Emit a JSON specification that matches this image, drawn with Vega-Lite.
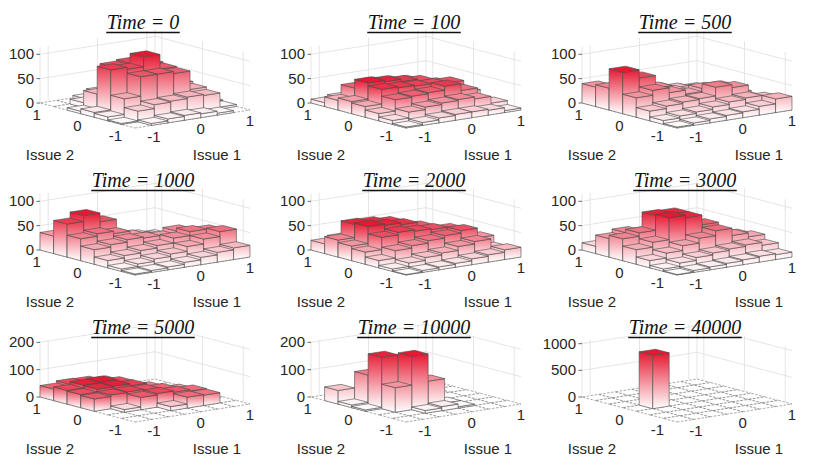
{
  "$schema": "https://vega.github.io/schema/vega-lite/v6.json",
  "padding": {"left": 0, "top": 13, "right": 0, "bottom": 0},
  "config": {
    "view": {"stroke": null},
    "header": {"labels": false, "title": null, "labelExpr": "''", "labelFontSize": 0, "labelPadding": 0, "labelColor": "transparent"},
    "headerFacet": {"labels": false, "title": null, "labelExpr": "''", "labelFontSize": 0, "labelPadding": 0, "labelColor": "transparent"}
  },
  "datasets": {
    "panels": [
      {"t": 0, "zmax": 115, "step": 50},
      {"t": 100, "zmax": 115, "step": 50},
      {"t": 500, "zmax": 115, "step": 50},
      {"t": 1000, "zmax": 115, "step": 50},
      {"t": 2000, "zmax": 115, "step": 50},
      {"t": 3000, "zmax": 115, "step": 50},
      {"t": 5000, "zmax": 205, "step": 100},
      {"t": 10000, "zmax": 205, "step": 100},
      {"t": 40000, "zmax": 1050, "step": 500}
    ],
    "bins": [
      {"t":0,"issue1":0.857,"issue2":0.857,"n":0},{"t":0,"issue1":0.571,"issue2":0.857,"n":0},{"t":0,"issue1":0.286,"issue2":0.857,"n":5},{"t":0,"issue1":0,"issue2":0.857,"n":8},{"t":0,"issue1":-0.286,"issue2":0.857,"n":5},{"t":0,"issue1":-0.571,"issue2":0.857,"n":0},{"t":0,"issue1":-0.857,"issue2":0.857,"n":0},
      {"t":0,"issue1":0.857,"issue2":0.571,"n":0},{"t":0,"issue1":0.571,"issue2":0.571,"n":10},{"t":0,"issue1":0.286,"issue2":0.571,"n":25},{"t":0,"issue1":0,"issue2":0.571,"n":30},{"t":0,"issue1":-0.286,"issue2":0.571,"n":26},{"t":0,"issue1":-0.571,"issue2":0.571,"n":10},{"t":0,"issue1":-0.857,"issue2":0.571,"n":0},
      {"t":0,"issue1":0.857,"issue2":0.286,"n":5},{"t":0,"issue1":0.571,"issue2":0.286,"n":35},{"t":0,"issue1":0.286,"issue2":0.286,"n":80},{"t":0,"issue1":0,"issue2":0.286,"n":88},{"t":0,"issue1":-0.286,"issue2":0.286,"n":85},{"t":0,"issue1":-0.571,"issue2":0.286,"n":35},{"t":0,"issue1":-0.857,"issue2":0.286,"n":5},
      {"t":0,"issue1":0.857,"issue2":0,"n":8},{"t":0,"issue1":0.571,"issue2":0,"n":42},{"t":0,"issue1":0.286,"issue2":0,"n":78},{"t":0,"issue1":0,"issue2":0,"n":108},{"t":0,"issue1":-0.286,"issue2":0,"n":88},{"t":0,"issue1":-0.571,"issue2":0,"n":92},{"t":0,"issue1":-0.857,"issue2":0,"n":10},
      {"t":0,"issue1":0.857,"issue2":-0.286,"n":6},{"t":0,"issue1":0.571,"issue2":-0.286,"n":38},{"t":0,"issue1":0.286,"issue2":-0.286,"n":76},{"t":0,"issue1":0,"issue2":-0.286,"n":80},{"t":0,"issue1":-0.286,"issue2":-0.286,"n":80},{"t":0,"issue1":-0.571,"issue2":-0.286,"n":40},{"t":0,"issue1":-0.857,"issue2":-0.286,"n":8},
      {"t":0,"issue1":0.857,"issue2":-0.571,"n":4},{"t":0,"issue1":0.571,"issue2":-0.571,"n":33},{"t":0,"issue1":0.286,"issue2":-0.571,"n":35},{"t":0,"issue1":0,"issue2":-0.571,"n":32},{"t":0,"issue1":-0.286,"issue2":-0.571,"n":30},{"t":0,"issue1":-0.571,"issue2":-0.571,"n":22},{"t":0,"issue1":-0.857,"issue2":-0.571,"n":2},
      {"t":0,"issue1":0.857,"issue2":-0.857,"n":0},{"t":0,"issue1":0.571,"issue2":-0.857,"n":4},{"t":0,"issue1":0.286,"issue2":-0.857,"n":8},{"t":0,"issue1":0,"issue2":-0.857,"n":10},{"t":0,"issue1":-0.286,"issue2":-0.857,"n":8},{"t":0,"issue1":-0.571,"issue2":-0.857,"n":4},{"t":0,"issue1":-0.857,"issue2":-0.857,"n":0},

      {"t":100,"issue1":0.857,"issue2":0.857,"n":5},{"t":100,"issue1":0.571,"issue2":0.857,"n":10},{"t":100,"issue1":0.286,"issue2":0.857,"n":12},{"t":100,"issue1":0,"issue2":0.857,"n":15},{"t":100,"issue1":-0.286,"issue2":0.857,"n":15},{"t":100,"issue1":-0.571,"issue2":0.857,"n":12},{"t":100,"issue1":-0.857,"issue2":0.857,"n":8},
      {"t":100,"issue1":0.857,"issue2":0.571,"n":10},{"t":100,"issue1":0.571,"issue2":0.571,"n":28},{"t":100,"issue1":0.286,"issue2":0.571,"n":38},{"t":100,"issue1":0,"issue2":0.571,"n":42},{"t":100,"issue1":-0.286,"issue2":0.571,"n":45},{"t":100,"issue1":-0.571,"issue2":0.571,"n":40},{"t":100,"issue1":-0.857,"issue2":0.571,"n":20},
      {"t":100,"issue1":0.857,"issue2":0.286,"n":12},{"t":100,"issue1":0.571,"issue2":0.286,"n":35},{"t":100,"issue1":0.286,"issue2":0.286,"n":45},{"t":100,"issue1":0,"issue2":0.286,"n":50},{"t":100,"issue1":-0.286,"issue2":0.286,"n":55},{"t":100,"issue1":-0.571,"issue2":0.286,"n":58},{"t":100,"issue1":-0.857,"issue2":0.286,"n":25},
      {"t":100,"issue1":0.857,"issue2":0,"n":20},{"t":100,"issue1":0.571,"issue2":0,"n":44},{"t":100,"issue1":0.286,"issue2":0,"n":46},{"t":100,"issue1":0,"issue2":0,"n":48},{"t":100,"issue1":-0.286,"issue2":0,"n":50},{"t":100,"issue1":-0.571,"issue2":0,"n":52},{"t":100,"issue1":-0.857,"issue2":0,"n":22},
      {"t":100,"issue1":0.857,"issue2":-0.286,"n":10},{"t":100,"issue1":0.571,"issue2":-0.286,"n":36},{"t":100,"issue1":0.286,"issue2":-0.286,"n":50},{"t":100,"issue1":0,"issue2":-0.286,"n":42},{"t":100,"issue1":-0.286,"issue2":-0.286,"n":40},{"t":100,"issue1":-0.571,"issue2":-0.286,"n":38},{"t":100,"issue1":-0.857,"issue2":-0.286,"n":15},
      {"t":100,"issue1":0.857,"issue2":-0.571,"n":12},{"t":100,"issue1":0.571,"issue2":-0.571,"n":26},{"t":100,"issue1":0.286,"issue2":-0.571,"n":30},{"t":100,"issue1":0,"issue2":-0.571,"n":28},{"t":100,"issue1":-0.286,"issue2":-0.571,"n":25},{"t":100,"issue1":-0.571,"issue2":-0.571,"n":20},{"t":100,"issue1":-0.857,"issue2":-0.571,"n":8},
      {"t":100,"issue1":0.857,"issue2":-0.857,"n":4},{"t":100,"issue1":0.571,"issue2":-0.857,"n":10},{"t":100,"issue1":0.286,"issue2":-0.857,"n":12},{"t":100,"issue1":0,"issue2":-0.857,"n":12},{"t":100,"issue1":-0.286,"issue2":-0.857,"n":10},{"t":100,"issue1":-0.571,"issue2":-0.857,"n":6},{"t":100,"issue1":-0.857,"issue2":-0.857,"n":2},

      {"t":500,"issue1":0.857,"issue2":0.857,"n":5},{"t":500,"issue1":0.571,"issue2":0.857,"n":8},{"t":500,"issue1":0.286,"issue2":0.857,"n":12},{"t":500,"issue1":0,"issue2":0.857,"n":15},{"t":500,"issue1":-0.286,"issue2":0.857,"n":20},{"t":500,"issue1":-0.571,"issue2":0.857,"n":30},{"t":500,"issue1":-0.857,"issue2":0.857,"n":40},
      {"t":500,"issue1":0.857,"issue2":0.571,"n":8},{"t":500,"issue1":0.571,"issue2":0.571,"n":15},{"t":500,"issue1":0.286,"issue2":0.571,"n":22},{"t":500,"issue1":0,"issue2":0.571,"n":28},{"t":500,"issue1":-0.286,"issue2":0.571,"n":35},{"t":500,"issue1":-0.571,"issue2":0.571,"n":55},{"t":500,"issue1":-0.857,"issue2":0.571,"n":45},
      {"t":500,"issue1":0.857,"issue2":0.286,"n":10},{"t":500,"issue1":0.571,"issue2":0.286,"n":20},{"t":500,"issue1":0.286,"issue2":0.286,"n":25},{"t":500,"issue1":0,"issue2":0.286,"n":30},{"t":500,"issue1":-0.286,"issue2":0.286,"n":42},{"t":500,"issue1":-0.571,"issue2":0.286,"n":68},{"t":500,"issue1":-0.857,"issue2":0.286,"n":85},
      {"t":500,"issue1":0.857,"issue2":0,"n":18},{"t":500,"issue1":0.571,"issue2":0,"n":36},{"t":500,"issue1":0.286,"issue2":0,"n":38},{"t":500,"issue1":0,"issue2":0,"n":32},{"t":500,"issue1":-0.286,"issue2":0,"n":40},{"t":500,"issue1":-0.571,"issue2":0,"n":50},{"t":500,"issue1":-0.857,"issue2":0,"n":40},
      {"t":500,"issue1":0.857,"issue2":-0.286,"n":15},{"t":500,"issue1":0.571,"issue2":-0.286,"n":42},{"t":500,"issue1":0.286,"issue2":-0.286,"n":48},{"t":500,"issue1":0,"issue2":-0.286,"n":30},{"t":500,"issue1":-0.286,"issue2":-0.286,"n":28},{"t":500,"issue1":-0.571,"issue2":-0.286,"n":25},{"t":500,"issue1":-0.857,"issue2":-0.286,"n":20},
      {"t":500,"issue1":0.857,"issue2":-0.571,"n":22},{"t":500,"issue1":0.571,"issue2":-0.571,"n":28},{"t":500,"issue1":0.286,"issue2":-0.571,"n":25},{"t":500,"issue1":0,"issue2":-0.571,"n":20},{"t":500,"issue1":-0.286,"issue2":-0.571,"n":15},{"t":500,"issue1":-0.571,"issue2":-0.571,"n":12},{"t":500,"issue1":-0.857,"issue2":-0.571,"n":8},
      {"t":500,"issue1":0.857,"issue2":-0.857,"n":28},{"t":500,"issue1":0.571,"issue2":-0.857,"n":18},{"t":500,"issue1":0.286,"issue2":-0.857,"n":12},{"t":500,"issue1":0,"issue2":-0.857,"n":10},{"t":500,"issue1":-0.286,"issue2":-0.857,"n":8},{"t":500,"issue1":-0.571,"issue2":-0.857,"n":5},{"t":500,"issue1":-0.857,"issue2":-0.857,"n":2},

      {"t":1000,"issue1":0.857,"issue2":0.857,"n":5},{"t":1000,"issue1":0.571,"issue2":0.857,"n":10},{"t":1000,"issue1":0.286,"issue2":0.857,"n":12},{"t":1000,"issue1":0,"issue2":0.857,"n":15},{"t":1000,"issue1":-0.286,"issue2":0.857,"n":20},{"t":1000,"issue1":-0.571,"issue2":0.857,"n":30},{"t":1000,"issue1":-0.857,"issue2":0.857,"n":36},
      {"t":1000,"issue1":0.857,"issue2":0.571,"n":10},{"t":1000,"issue1":0.571,"issue2":0.571,"n":15},{"t":1000,"issue1":0.286,"issue2":0.571,"n":20},{"t":1000,"issue1":0,"issue2":0.571,"n":30},{"t":1000,"issue1":-0.286,"issue2":0.571,"n":62},{"t":1000,"issue1":-0.571,"issue2":0.571,"n":80},{"t":1000,"issue1":-0.857,"issue2":0.571,"n":68},
      {"t":1000,"issue1":0.857,"issue2":0.286,"n":15},{"t":1000,"issue1":0.571,"issue2":0.286,"n":20},{"t":1000,"issue1":0.286,"issue2":0.286,"n":25},{"t":1000,"issue1":0,"issue2":0.286,"n":35},{"t":1000,"issue1":-0.286,"issue2":0.286,"n":45},{"t":1000,"issue1":-0.571,"issue2":0.286,"n":50},{"t":1000,"issue1":-0.857,"issue2":0.286,"n":45},
      {"t":1000,"issue1":0.857,"issue2":0,"n":30},{"t":1000,"issue1":0.571,"issue2":0,"n":42},{"t":1000,"issue1":0.286,"issue2":0,"n":35},{"t":1000,"issue1":0,"issue2":0,"n":38},{"t":1000,"issue1":-0.286,"issue2":0,"n":40},{"t":1000,"issue1":-0.571,"issue2":0,"n":35},{"t":1000,"issue1":-0.857,"issue2":0,"n":30},
      {"t":1000,"issue1":0.857,"issue2":-0.286,"n":44},{"t":1000,"issue1":0.571,"issue2":-0.286,"n":48},{"t":1000,"issue1":0.286,"issue2":-0.286,"n":40},{"t":1000,"issue1":0,"issue2":-0.286,"n":30},{"t":1000,"issue1":-0.286,"issue2":-0.286,"n":25},{"t":1000,"issue1":-0.571,"issue2":-0.286,"n":20},{"t":1000,"issue1":-0.857,"issue2":-0.286,"n":15},
      {"t":1000,"issue1":0.857,"issue2":-0.571,"n":50},{"t":1000,"issue1":0.571,"issue2":-0.571,"n":40},{"t":1000,"issue1":0.286,"issue2":-0.571,"n":30},{"t":1000,"issue1":0,"issue2":-0.571,"n":20},{"t":1000,"issue1":-0.286,"issue2":-0.571,"n":15},{"t":1000,"issue1":-0.571,"issue2":-0.571,"n":10},{"t":1000,"issue1":-0.857,"issue2":-0.571,"n":5},
      {"t":1000,"issue1":0.857,"issue2":-0.857,"n":24},{"t":1000,"issue1":0.571,"issue2":-0.857,"n":20},{"t":1000,"issue1":0.286,"issue2":-0.857,"n":15},{"t":1000,"issue1":0,"issue2":-0.857,"n":10},{"t":1000,"issue1":-0.286,"issue2":-0.857,"n":6},{"t":1000,"issue1":-0.571,"issue2":-0.857,"n":4},{"t":1000,"issue1":-0.857,"issue2":-0.857,"n":2},

      {"t":2000,"issue1":0.857,"issue2":0.857,"n":5},{"t":2000,"issue1":0.571,"issue2":0.857,"n":10},{"t":2000,"issue1":0.286,"issue2":0.857,"n":15},{"t":2000,"issue1":0,"issue2":0.857,"n":20},{"t":2000,"issue1":-0.286,"issue2":0.857,"n":25},{"t":2000,"issue1":-0.571,"issue2":0.857,"n":25},{"t":2000,"issue1":-0.857,"issue2":0.857,"n":20},
      {"t":2000,"issue1":0.857,"issue2":0.571,"n":10},{"t":2000,"issue1":0.571,"issue2":0.571,"n":25},{"t":2000,"issue1":0.286,"issue2":0.571,"n":40},{"t":2000,"issue1":0,"issue2":0.571,"n":55},{"t":2000,"issue1":-0.286,"issue2":0.571,"n":60},{"t":2000,"issue1":-0.571,"issue2":0.571,"n":62},{"t":2000,"issue1":-0.857,"issue2":0.571,"n":35},
      {"t":2000,"issue1":0.857,"issue2":0.286,"n":15},{"t":2000,"issue1":0.571,"issue2":0.286,"n":35},{"t":2000,"issue1":0.286,"issue2":0.286,"n":48},{"t":2000,"issue1":0,"issue2":0.286,"n":58},{"t":2000,"issue1":-0.286,"issue2":0.286,"n":62},{"t":2000,"issue1":-0.571,"issue2":0.286,"n":65},{"t":2000,"issue1":-0.857,"issue2":0.286,"n":30},
      {"t":2000,"issue1":0.857,"issue2":0,"n":20},{"t":2000,"issue1":0.571,"issue2":0,"n":45},{"t":2000,"issue1":0.286,"issue2":0,"n":50},{"t":2000,"issue1":0,"issue2":0,"n":52},{"t":2000,"issue1":-0.286,"issue2":0,"n":55},{"t":2000,"issue1":-0.571,"issue2":0,"n":50},{"t":2000,"issue1":-0.857,"issue2":0,"n":25},
      {"t":2000,"issue1":0.857,"issue2":-0.286,"n":30},{"t":2000,"issue1":0.571,"issue2":-0.286,"n":50},{"t":2000,"issue1":0.286,"issue2":-0.286,"n":45},{"t":2000,"issue1":0,"issue2":-0.286,"n":40},{"t":2000,"issue1":-0.286,"issue2":-0.286,"n":35},{"t":2000,"issue1":-0.571,"issue2":-0.286,"n":30},{"t":2000,"issue1":-0.857,"issue2":-0.286,"n":15},
      {"t":2000,"issue1":0.857,"issue2":-0.571,"n":16},{"t":2000,"issue1":0.571,"issue2":-0.571,"n":35},{"t":2000,"issue1":0.286,"issue2":-0.571,"n":30},{"t":2000,"issue1":0,"issue2":-0.571,"n":22},{"t":2000,"issue1":-0.286,"issue2":-0.571,"n":18},{"t":2000,"issue1":-0.571,"issue2":-0.571,"n":12},{"t":2000,"issue1":-0.857,"issue2":-0.571,"n":5},
      {"t":2000,"issue1":0.857,"issue2":-0.857,"n":20},{"t":2000,"issue1":0.571,"issue2":-0.857,"n":15},{"t":2000,"issue1":0.286,"issue2":-0.857,"n":12},{"t":2000,"issue1":0,"issue2":-0.857,"n":8},{"t":2000,"issue1":-0.286,"issue2":-0.857,"n":6},{"t":2000,"issue1":-0.571,"issue2":-0.857,"n":4},{"t":2000,"issue1":-0.857,"issue2":-0.857,"n":1},

      {"t":3000,"issue1":0.857,"issue2":0.857,"n":5},{"t":3000,"issue1":0.571,"issue2":0.857,"n":10},{"t":3000,"issue1":0.286,"issue2":0.857,"n":15},{"t":3000,"issue1":0,"issue2":0.857,"n":18},{"t":3000,"issue1":-0.286,"issue2":0.857,"n":20},{"t":3000,"issue1":-0.571,"issue2":0.857,"n":20},{"t":3000,"issue1":-0.857,"issue2":0.857,"n":15},
      {"t":3000,"issue1":0.857,"issue2":0.571,"n":10},{"t":3000,"issue1":0.571,"issue2":0.571,"n":18},{"t":3000,"issue1":0.286,"issue2":0.571,"n":25},{"t":3000,"issue1":0,"issue2":0.571,"n":35},{"t":3000,"issue1":-0.286,"issue2":0.571,"n":40},{"t":3000,"issue1":-0.571,"issue2":0.571,"n":45},{"t":3000,"issue1":-0.857,"issue2":0.571,"n":38},
      {"t":3000,"issue1":0.857,"issue2":0.286,"n":15},{"t":3000,"issue1":0.571,"issue2":0.286,"n":30},{"t":3000,"issue1":0.286,"issue2":0.286,"n":40},{"t":3000,"issue1":0,"issue2":0.286,"n":80},{"t":3000,"issue1":-0.286,"issue2":0.286,"n":82},{"t":3000,"issue1":-0.571,"issue2":0.286,"n":52},{"t":3000,"issue1":-0.857,"issue2":0.286,"n":45},
      {"t":3000,"issue1":0.857,"issue2":0,"n":28},{"t":3000,"issue1":0.571,"issue2":0,"n":35},{"t":3000,"issue1":0.286,"issue2":0,"n":60},{"t":3000,"issue1":0,"issue2":0,"n":80},{"t":3000,"issue1":-0.286,"issue2":0,"n":85},{"t":3000,"issue1":-0.571,"issue2":0,"n":40},{"t":3000,"issue1":-0.857,"issue2":0,"n":30},
      {"t":3000,"issue1":0.857,"issue2":-0.286,"n":32},{"t":3000,"issue1":0.571,"issue2":-0.286,"n":40},{"t":3000,"issue1":0.286,"issue2":-0.286,"n":55},{"t":3000,"issue1":0,"issue2":-0.286,"n":45},{"t":3000,"issue1":-0.286,"issue2":-0.286,"n":35},{"t":3000,"issue1":-0.571,"issue2":-0.286,"n":25},{"t":3000,"issue1":-0.857,"issue2":-0.286,"n":15},
      {"t":3000,"issue1":0.857,"issue2":-0.571,"n":22},{"t":3000,"issue1":0.571,"issue2":-0.571,"n":28},{"t":3000,"issue1":0.286,"issue2":-0.571,"n":25},{"t":3000,"issue1":0,"issue2":-0.571,"n":22},{"t":3000,"issue1":-0.286,"issue2":-0.571,"n":18},{"t":3000,"issue1":-0.571,"issue2":-0.571,"n":12},{"t":3000,"issue1":-0.857,"issue2":-0.571,"n":5},
      {"t":3000,"issue1":0.857,"issue2":-0.857,"n":10},{"t":3000,"issue1":0.571,"issue2":-0.857,"n":12},{"t":3000,"issue1":0.286,"issue2":-0.857,"n":10},{"t":3000,"issue1":0,"issue2":-0.857,"n":8},{"t":3000,"issue1":-0.286,"issue2":-0.857,"n":6},{"t":3000,"issue1":-0.571,"issue2":-0.857,"n":4},{"t":3000,"issue1":-0.857,"issue2":-0.857,"n":1},

      {"t":5000,"issue1":0.857,"issue2":0.857,"n":0},{"t":5000,"issue1":0.571,"issue2":0.857,"n":0},{"t":5000,"issue1":0.286,"issue2":0.857,"n":0},{"t":5000,"issue1":0,"issue2":0.857,"n":40},{"t":5000,"issue1":-0.286,"issue2":0.857,"n":48},{"t":5000,"issue1":-0.571,"issue2":0.857,"n":50},{"t":5000,"issue1":-0.857,"issue2":0.857,"n":42},
      {"t":5000,"issue1":0.857,"issue2":0.571,"n":0},{"t":5000,"issue1":0.571,"issue2":0.571,"n":0},{"t":5000,"issue1":0.286,"issue2":0.571,"n":20},{"t":5000,"issue1":0,"issue2":0.571,"n":50},{"t":5000,"issue1":-0.286,"issue2":0.571,"n":62},{"t":5000,"issue1":-0.571,"issue2":0.571,"n":60},{"t":5000,"issue1":-0.857,"issue2":0.571,"n":50},
      {"t":5000,"issue1":0.857,"issue2":0.286,"n":0},{"t":5000,"issue1":0.571,"issue2":0.286,"n":0},{"t":5000,"issue1":0.286,"issue2":0.286,"n":35},{"t":5000,"issue1":0,"issue2":0.286,"n":52},{"t":5000,"issue1":-0.286,"issue2":0.286,"n":60},{"t":5000,"issue1":-0.571,"issue2":0.286,"n":58},{"t":5000,"issue1":-0.857,"issue2":0.286,"n":48},
      {"t":5000,"issue1":0.857,"issue2":0,"n":0},{"t":5000,"issue1":0.571,"issue2":0,"n":30},{"t":5000,"issue1":0.286,"issue2":0,"n":42},{"t":5000,"issue1":0,"issue2":0,"n":48},{"t":5000,"issue1":-0.286,"issue2":0,"n":52},{"t":5000,"issue1":-0.571,"issue2":0,"n":50},{"t":5000,"issue1":-0.857,"issue2":0,"n":45},
      {"t":5000,"issue1":0.857,"issue2":-0.286,"n":0},{"t":5000,"issue1":0.571,"issue2":-0.286,"n":40},{"t":5000,"issue1":0.286,"issue2":-0.286,"n":45},{"t":5000,"issue1":0,"issue2":-0.286,"n":50},{"t":5000,"issue1":-0.286,"issue2":-0.286,"n":45},{"t":5000,"issue1":-0.571,"issue2":-0.286,"n":10},{"t":5000,"issue1":-0.857,"issue2":-0.286,"n":0},
      {"t":5000,"issue1":0.857,"issue2":-0.571,"n":0},{"t":5000,"issue1":0.571,"issue2":-0.571,"n":38},{"t":5000,"issue1":0.286,"issue2":-0.571,"n":40},{"t":5000,"issue1":0,"issue2":-0.571,"n":15},{"t":5000,"issue1":-0.286,"issue2":-0.571,"n":0},{"t":5000,"issue1":-0.571,"issue2":-0.571,"n":0},{"t":5000,"issue1":-0.857,"issue2":-0.571,"n":0},
      {"t":5000,"issue1":0.857,"issue2":-0.857,"n":0},{"t":5000,"issue1":0.571,"issue2":-0.857,"n":0},{"t":5000,"issue1":0.286,"issue2":-0.857,"n":0},{"t":5000,"issue1":0,"issue2":-0.857,"n":0},{"t":5000,"issue1":-0.286,"issue2":-0.857,"n":0},{"t":5000,"issue1":-0.571,"issue2":-0.857,"n":0},{"t":5000,"issue1":-0.857,"issue2":-0.857,"n":0},

      {"t":10000,"issue1":0.857,"issue2":0.857,"n":0},{"t":10000,"issue1":0.571,"issue2":0.857,"n":0},{"t":10000,"issue1":0.286,"issue2":0.857,"n":0},{"t":10000,"issue1":0,"issue2":0.857,"n":0},{"t":10000,"issue1":-0.286,"issue2":0.857,"n":0},{"t":10000,"issue1":-0.571,"issue2":0.857,"n":0},{"t":10000,"issue1":-0.857,"issue2":0.857,"n":0},
      {"t":10000,"issue1":0.857,"issue2":0.571,"n":0},{"t":10000,"issue1":0.571,"issue2":0.571,"n":0},{"t":10000,"issue1":0.286,"issue2":0.571,"n":0},{"t":10000,"issue1":0,"issue2":0.571,"n":0},{"t":10000,"issue1":-0.286,"issue2":0.571,"n":0},{"t":10000,"issue1":-0.571,"issue2":0.571,"n":5},{"t":10000,"issue1":-0.857,"issue2":0.571,"n":50},
      {"t":10000,"issue1":0.857,"issue2":0.286,"n":0},{"t":10000,"issue1":0.571,"issue2":0.286,"n":0},{"t":10000,"issue1":0.286,"issue2":0.286,"n":0},{"t":10000,"issue1":0,"issue2":0.286,"n":0},{"t":10000,"issue1":-0.286,"issue2":0.286,"n":5},{"t":10000,"issue1":-0.571,"issue2":0.286,"n":110},{"t":10000,"issue1":-0.857,"issue2":0.286,"n":10},
      {"t":10000,"issue1":0.857,"issue2":0,"n":0},{"t":10000,"issue1":0.571,"issue2":0,"n":0},{"t":10000,"issue1":0.286,"issue2":0,"n":0},{"t":10000,"issue1":0,"issue2":0,"n":5},{"t":10000,"issue1":-0.286,"issue2":0,"n":20},{"t":10000,"issue1":-0.571,"issue2":0,"n":188},{"t":10000,"issue1":-0.857,"issue2":0,"n":5},
      {"t":10000,"issue1":0.857,"issue2":-0.286,"n":0},{"t":10000,"issue1":0.571,"issue2":-0.286,"n":0},{"t":10000,"issue1":0.286,"issue2":-0.286,"n":5},{"t":10000,"issue1":0,"issue2":-0.286,"n":95},{"t":10000,"issue1":-0.286,"issue2":-0.286,"n":195},{"t":10000,"issue1":-0.571,"issue2":-0.286,"n":90},{"t":10000,"issue1":-0.857,"issue2":-0.286,"n":0},
      {"t":10000,"issue1":0.857,"issue2":-0.571,"n":0},{"t":10000,"issue1":0.571,"issue2":-0.571,"n":0},{"t":10000,"issue1":0.286,"issue2":-0.571,"n":5},{"t":10000,"issue1":0,"issue2":-0.571,"n":15},{"t":10000,"issue1":-0.286,"issue2":-0.571,"n":10},{"t":10000,"issue1":-0.571,"issue2":-0.571,"n":0},{"t":10000,"issue1":-0.857,"issue2":-0.571,"n":0},
      {"t":10000,"issue1":0.857,"issue2":-0.857,"n":0},{"t":10000,"issue1":0.571,"issue2":-0.857,"n":0},{"t":10000,"issue1":0.286,"issue2":-0.857,"n":0},{"t":10000,"issue1":0,"issue2":-0.857,"n":0},{"t":10000,"issue1":-0.286,"issue2":-0.857,"n":0},{"t":10000,"issue1":-0.571,"issue2":-0.857,"n":0},{"t":10000,"issue1":-0.857,"issue2":-0.857,"n":0},

      {"t":40000,"issue1":0.857,"issue2":0.857,"n":0},{"t":40000,"issue1":0.571,"issue2":0.857,"n":0},{"t":40000,"issue1":0.286,"issue2":0.857,"n":0},{"t":40000,"issue1":0,"issue2":0.857,"n":0},{"t":40000,"issue1":-0.286,"issue2":0.857,"n":0},{"t":40000,"issue1":-0.571,"issue2":0.857,"n":0},{"t":40000,"issue1":-0.857,"issue2":0.857,"n":0},
      {"t":40000,"issue1":0.857,"issue2":0.571,"n":0},{"t":40000,"issue1":0.571,"issue2":0.571,"n":0},{"t":40000,"issue1":0.286,"issue2":0.571,"n":0},{"t":40000,"issue1":0,"issue2":0.571,"n":0},{"t":40000,"issue1":-0.286,"issue2":0.571,"n":0},{"t":40000,"issue1":-0.571,"issue2":0.571,"n":0},{"t":40000,"issue1":-0.857,"issue2":0.571,"n":0},
      {"t":40000,"issue1":0.857,"issue2":0.286,"n":0},{"t":40000,"issue1":0.571,"issue2":0.286,"n":0},{"t":40000,"issue1":0.286,"issue2":0.286,"n":0},{"t":40000,"issue1":0,"issue2":0.286,"n":0},{"t":40000,"issue1":-0.286,"issue2":0.286,"n":0},{"t":40000,"issue1":-0.571,"issue2":0.286,"n":0},{"t":40000,"issue1":-0.857,"issue2":0.286,"n":0},
      {"t":40000,"issue1":0.857,"issue2":0,"n":0},{"t":40000,"issue1":0.571,"issue2":0,"n":0},{"t":40000,"issue1":0.286,"issue2":0,"n":0},{"t":40000,"issue1":0,"issue2":0,"n":0},{"t":40000,"issue1":-0.286,"issue2":0,"n":0},{"t":40000,"issue1":-0.571,"issue2":0,"n":1000},{"t":40000,"issue1":-0.857,"issue2":0,"n":0},
      {"t":40000,"issue1":0.857,"issue2":-0.286,"n":0},{"t":40000,"issue1":0.571,"issue2":-0.286,"n":0},{"t":40000,"issue1":0.286,"issue2":-0.286,"n":0},{"t":40000,"issue1":0,"issue2":-0.286,"n":0},{"t":40000,"issue1":-0.286,"issue2":-0.286,"n":0},{"t":40000,"issue1":-0.571,"issue2":-0.286,"n":0},{"t":40000,"issue1":-0.857,"issue2":-0.286,"n":0},
      {"t":40000,"issue1":0.857,"issue2":-0.571,"n":0},{"t":40000,"issue1":0.571,"issue2":-0.571,"n":0},{"t":40000,"issue1":0.286,"issue2":-0.571,"n":0},{"t":40000,"issue1":0,"issue2":-0.571,"n":0},{"t":40000,"issue1":-0.286,"issue2":-0.571,"n":0},{"t":40000,"issue1":-0.571,"issue2":-0.571,"n":0},{"t":40000,"issue1":-0.857,"issue2":-0.571,"n":0},
      {"t":40000,"issue1":0.857,"issue2":-0.857,"n":0},{"t":40000,"issue1":0.571,"issue2":-0.857,"n":0},{"t":40000,"issue1":0.286,"issue2":-0.857,"n":0},{"t":40000,"issue1":0,"issue2":-0.857,"n":0},{"t":40000,"issue1":-0.286,"issue2":-0.857,"n":0},{"t":40000,"issue1":-0.571,"issue2":-0.857,"n":0},{"t":40000,"issue1":-0.857,"issue2":-0.857,"n":0}
    ]
  },
  "data": {"name": "bins"},
  "transform": [
    {"lookup": "t", "from": {"data": {"name": "panels"}, "key": "t", "fields": ["zmax", "step"]}}
  ],
  "facet": {"field": "t", "type": "ordinal", "header": {"labels": false, "title": null, "labelExpr": "''", "labelFontSize": 0, "labelPadding": 0, "labelColor": "transparent"}},
  "columns": 3,
  "spacing": 0,
  "spec": {
    "width": 271,
    "height": 147,
    "projection": {"type": "identity", "reflectY": true, "scale": 1, "translate": [135, 112]},
    "layer": [
      {
        "transform": [
          {"aggregate": [{"op": "count", "as": "wc"}], "groupby": ["t", "zmax", "step"]},
          {"calculate": "56 * datum.step / datum.zmax", "as": "wz"},
          {"calculate": "{type: 'MultiLineString', coordinates: [[[-95, 25 + datum.wz], [20, 43 + datum.wz], [115, 18 + datum.wz]], [[-95, 25 + 2 * datum.wz], [20, 43 + 2 * datum.wz], [115, 18 + 2 * datum.wz]], [[-95, 25], [-95, 81]], [[-86.8, 26.3], [-86.8, 82.3]], [[-37.5, 34], [-37.5, 90]], [[11.8, 41.7], [11.8, 97.7]], [[20, 43], [20, 99]], [[26.8, 41.2], [26.8, 97.2]], [[67.5, 30.5], [67.5, 86.5]], [[108.2, 19.8], [108.2, 75.8]]]}", "as": "wgeo"}
        ],
        "mark": {"type": "geoshape", "filled": false, "stroke": "#dedede", "strokeWidth": 0.8, "clip": false},
        "encoding": {"shape": {"field": "wgeo", "type": "geojson"}}
      },
      {
        "transform": [
          {"aggregate": [{"op": "count", "as": "kc"}], "groupby": ["t", "zmax", "step"]},
          {"calculate": "56 * datum.step / datum.zmax", "as": "kz"},
          {"calculate": "{type: 'MultiLineString', coordinates: [[[-98.5, 25], [-95, 25]], [[-98.5, 25 + datum.kz], [-95, 25 + datum.kz]], [[-98.5, 25 + 2 * datum.kz], [-95, 25 + 2 * datum.kz]]]}", "as": "kgeo"}
        ],
        "mark": {"type": "geoshape", "filled": false, "stroke": "#444444", "strokeWidth": 0.8, "clip": false},
        "encoding": {"shape": {"field": "kgeo", "type": "geojson"}}
      },
      {
        "transform": [
          {"calculate": "datum.issue1 + 1 - 1 / 7", "as": "fu0"},
          {"calculate": "datum.issue1 + 1 + 1 / 7", "as": "fu1"},
          {"calculate": "datum.issue2 + 1 - 1 / 7", "as": "fv0"},
          {"calculate": "datum.issue2 + 1 + 1 / 7", "as": "fv1"},
          {"calculate": "{type: 'Polygon', coordinates: [[[57.5 * datum.fu0 - 47.5 * datum.fv0, 9 * datum.fu0 + 12.5 * datum.fv0], [57.5 * datum.fu1 - 47.5 * datum.fv0, 9 * datum.fu1 + 12.5 * datum.fv0], [57.5 * datum.fu1 - 47.5 * datum.fv1, 9 * datum.fu1 + 12.5 * datum.fv1], [57.5 * datum.fu0 - 47.5 * datum.fv1, 9 * datum.fu0 + 12.5 * datum.fv1], [57.5 * datum.fu0 - 47.5 * datum.fv0, 9 * datum.fu0 + 12.5 * datum.fv0]]]}", "as": "fgeo"}
        ],
        "mark": {"type": "geoshape", "fill": "#ffffff", "stroke": "#707070", "strokeWidth": 0.6, "strokeDash": [2.5, 1.5], "clip": false},
        "encoding": {"shape": {"field": "fgeo", "type": "geojson"}}
      },
      {
        "transform": [
          {"filter": "datum.n > 0"},
          {"joinaggregate": [{"op": "max", "field": "n", "as": "nmax"}], "groupby": ["t"]},
          {"calculate": "56 * datum.n / datum.zmax", "as": "h"},
          {"calculate": "datum.n / datum.nmax", "as": "f"},
          {"calculate": "'rgb(' + round(255 - 25 * datum.f) + ',' + round(255 - 230 * datum.f) + ',' + round(255 - 205 * datum.f) + ')'", "as": "top"},
          {"calculate": "datum.issue1 + 1 - 1 / 7", "as": "u0"},
          {"calculate": "datum.issue1 + 1 + 1 / 7", "as": "u1"},
          {"calculate": "datum.issue2 + 1 - 1 / 7", "as": "v0"},
          {"calculate": "datum.issue2 + 1 + 1 / 7", "as": "v1"},
          {"calculate": "[57.5 * datum.u0 - 47.5 * datum.v0, 9 * datum.u0 + 12.5 * datum.v0]", "as": "cF"},
          {"calculate": "[57.5 * datum.u1 - 47.5 * datum.v0, 9 * datum.u1 + 12.5 * datum.v0]", "as": "cR"},
          {"calculate": "[57.5 * datum.u1 - 47.5 * datum.v1, 9 * datum.u1 + 12.5 * datum.v1]", "as": "cB"},
          {"calculate": "[57.5 * datum.u0 - 47.5 * datum.v1, 9 * datum.u0 + 12.5 * datum.v1]", "as": "cL"},
          {"calculate": "['L', 'R', 'T']", "as": "face"},
          {"flatten": ["face"]},
          {"calculate": "datum.face == 'L' ? [datum.cL, datum.cF, [datum.cF[0], datum.cF[1] + datum.h], [datum.cL[0], datum.cL[1] + datum.h], datum.cL] : datum.face == 'R' ? [datum.cF, datum.cR, [datum.cR[0], datum.cR[1] + datum.h], [datum.cF[0], datum.cF[1] + datum.h], datum.cF] : [[datum.cF[0], datum.cF[1] + datum.h], [datum.cR[0], datum.cR[1] + datum.h], [datum.cB[0], datum.cB[1] + datum.h], [datum.cL[0], datum.cL[1] + datum.h], [datum.cF[0], datum.cF[1] + datum.h]]", "as": "ring"},
          {"calculate": "{type: 'Polygon', coordinates: [datum.ring]}", "as": "geo"}
        ],
        "mark": {
          "type": "geoshape",
          "fill": {"expr": "datum.face == 'T' ? datum.top : {gradient: 'linear', x1: 0, y1: 1, x2: 0, y2: 0, stops: [{offset: 0, color: '#ffffff'}, {offset: 1, color: datum.top}]}"},
          "stroke": "#4a4a4a",
          "strokeWidth": 0.6,
          "clip": false
        },
        "encoding": {"shape": {"field": "geo", "type": "geojson"}}
      },
      {
        "transform": [
          {"aggregate": [{"op": "count", "as": "zc"}], "groupby": ["t", "zmax", "step"]},
          {"calculate": "[0, datum.step, 2 * datum.step]", "as": "ztick"},
          {"flatten": ["ztick"]},
          {"calculate": "'' + datum.ztick", "as": "ztext"},
          {"calculate": "-95", "as": "zlon"},
          {"calculate": "25 + 56 * datum.ztick / datum.zmax", "as": "zlat"}
        ],
        "mark": {"type": "text", "align": "right", "baseline": "middle", "dx": -6, "font": "Liberation Sans", "fontSize": 15, "color": "#262626", "clip": false},
        "encoding": {
          "longitude": {"field": "zlon", "type": "quantitative"},
          "latitude": {"field": "zlat", "type": "quantitative"},
          "text": {"field": "ztext", "type": "nominal"}
        }
      },
      {
        "transform": [
          {"filter": "datum.issue2 < -0.8 && (abs(datum.issue1) > 0.8 || datum.issue1 == 0)"},
          {"calculate": "'' + round(datum.issue1)", "as": "atext"},
          {"calculate": "57.5 * (datum.issue1 + 1)", "as": "alon"},
          {"calculate": "9 * (datum.issue1 + 1)", "as": "alat"}
        ],
        "mark": {"type": "text", "align": "left", "baseline": "middle", "dx": 4, "dy": 10, "font": "Liberation Sans", "fontSize": 15, "color": "#262626", "clip": false},
        "encoding": {
          "longitude": {"field": "alon", "type": "quantitative"},
          "latitude": {"field": "alat", "type": "quantitative"},
          "text": {"field": "atext", "type": "nominal"}
        }
      },
      {
        "transform": [
          {"filter": "datum.issue1 < -0.8 && (abs(datum.issue2) > 0.8 || datum.issue2 == 0)"},
          {"calculate": "'' + round(datum.issue2)", "as": "btext"},
          {"calculate": "-47.5 * (datum.issue2 + 1)", "as": "blon"},
          {"calculate": "12.5 * (datum.issue2 + 1)", "as": "blat"}
        ],
        "mark": {"type": "text", "align": "right", "baseline": "middle", "dx": -6, "dy": 10, "font": "Liberation Sans", "fontSize": 15, "color": "#262626", "clip": false},
        "encoding": {
          "longitude": {"field": "blon", "type": "quantitative"},
          "latitude": {"field": "blat", "type": "quantitative"},
          "text": {"field": "btext", "type": "nominal"}
        }
      },
      {
        "transform": [
          {"aggregate": [{"op": "count", "as": "xc"}], "groupby": ["t"]},
          {"calculate": "-85", "as": "xlon"},
          {"calculate": "-26.5", "as": "xlat"}
        ],
        "mark": {"type": "text", "text": "Issue 2", "align": "center", "baseline": "middle", "font": "Liberation Sans", "fontSize": 15, "color": "#262626", "clip": false},
        "encoding": {
          "longitude": {"field": "xlon", "type": "quantitative"},
          "latitude": {"field": "xlat", "type": "quantitative"}
        }
      },
      {
        "transform": [
          {"aggregate": [{"op": "count", "as": "yc"}], "groupby": ["t"]},
          {"calculate": "82", "as": "ylon"},
          {"calculate": "-27", "as": "ylat"}
        ],
        "mark": {"type": "text", "text": "Issue 1", "align": "center", "baseline": "middle", "font": "Liberation Sans", "fontSize": 15, "color": "#262626", "clip": false},
        "encoding": {
          "longitude": {"field": "ylon", "type": "quantitative"},
          "latitude": {"field": "ylat", "type": "quantitative"}
        }
      },
      {
        "transform": [
          {"aggregate": [{"op": "count", "as": "tc"}], "groupby": ["t"]},
          {"calculate": "'Time = ' + datum.t", "as": "ttext"},
          {"calculate": "8", "as": "tlon"},
          {"calculate": "datum.t <= 500 ? 99 : 88", "as": "tlat"}
        ],
        "mark": {"type": "text", "align": "center", "baseline": "alphabetic", "font": "Liberation Serif", "fontStyle": "italic", "fontSize": 20, "color": "#111111", "clip": false},
        "encoding": {
          "longitude": {"field": "tlon", "type": "quantitative"},
          "latitude": {"field": "tlat", "type": "quantitative"},
          "text": {"field": "ttext", "type": "nominal"}
        }
      },
      {
        "transform": [
          {"aggregate": [{"op": "count", "as": "uc"}], "groupby": ["t"]},
          {"calculate": "datum.t <= 500 ? 95.5 : 84.5", "as": "ulat"},
          {"calculate": "20 * (3.175 + 0.5 * length('' + datum.t))", "as": "uw"},
          {"calculate": "{type: 'LineString', coordinates: [[8 - datum.uw / 2, datum.ulat], [8 + datum.uw / 2, datum.ulat]]}", "as": "ugeo"}
        ],
        "mark": {"type": "geoshape", "filled": false, "stroke": "#111111", "strokeWidth": 1.4, "clip": false},
        "encoding": {"shape": {"field": "ugeo", "type": "geojson"}}
      }
    ]
  }
}
